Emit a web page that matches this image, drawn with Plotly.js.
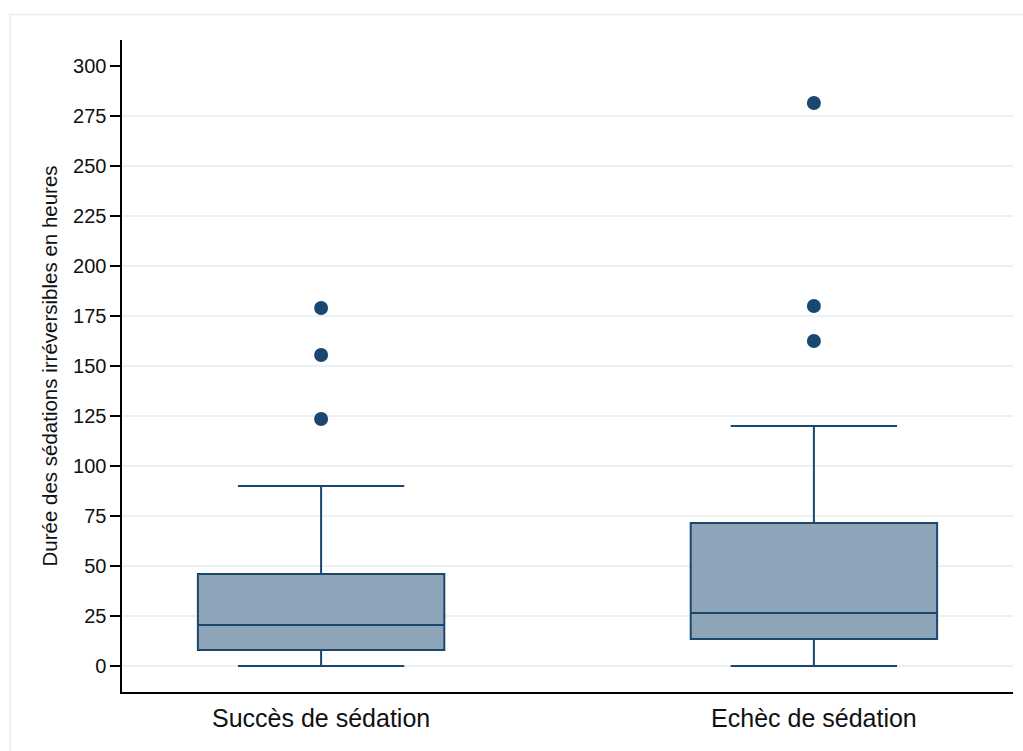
<!DOCTYPE html>
<html>
<head>
<meta charset="utf-8">
<script src="https://cdn.plot.ly/plotly-3.0.1.min.js"></script>
<style>html,body{margin:0;padding:0;background:#fff;}#chart{width:1023px;height:751px;}</style>
</head>
<body>
<div id="chart"></div>
<script>
const categories = ["Succès de sédation", "Echèc de sédation"];
const q1 = [8, 13.5];
const medians = [20.5, 26.5];
const q3 = [46, 71.5];
const lowerWhisker = [0, 0];
const upperWhisker = [90, 120];
const outliersSucces = [123.5, 155.5, 179];
const outliersEchec = [162.5, 180, 281.5];
const yTickVals = [0, 25, 50, 75, 100, 125, 150, 175, 200, 225, 250, 275, 300];
const gridVals = [0, 25, 50, 75, 100, 125, 150, 175, 200, 225, 250, 275];

const navy = '#1a476f';
const FONT = 'Liberation Sans, Arial, sans-serif';

const traces = [
  {
    type: 'box',
    x: categories,
    q1: q1,
    median: medians,
    q3: q3,
    lowerfence: lowerWhisker,
    upperfence: upperWhisker,
    boxpoints: false,
    width: 0.5,
    whiskerwidth: 0.675,
    fillcolor: '#8ea4b8',
    line: {color: navy, width: 2},
    showlegend: false,
    hoverinfo: 'skip'
  },
  {
    type: 'scatter', mode: 'markers',
    x: outliersSucces.map(() => categories[0]),
    y: outliersSucces,
    marker: {color: navy, size: 14},
    showlegend: false, hoverinfo: 'skip'
  },
  {
    type: 'scatter', mode: 'markers',
    x: outliersEchec.map(() => categories[1]),
    y: outliersEchec,
    marker: {color: navy, size: 14},
    showlegend: false, hoverinfo: 'skip'
  },
  {
    type: 'scatter', mode: 'markers', x: [categories[0]], y: [0], yaxis: 'y2',
    marker: {opacity: 0}, showlegend: false, hoverinfo: 'skip'
  }
];

const layout = {
  width: 1023, height: 751,
  paper_bgcolor: '#ffffff', plot_bgcolor: 'rgba(0,0,0,0)',
  margin: {l: 122, r: 10, t: 40, b: 59},
  font: {family: FONT, color: '#000'},
  showlegend: false,
  xaxis: {
    type: 'category',
    categoryorder: 'array', categoryarray: categories,
    range: [-0.404, 1.404],
    showgrid: false, zeroline: false,
    showline: true, linecolor: '#000', linewidth: 1.6,
    ticks: '', ticklen: 0,
    ticklabelstandoff: 3,
    tickfont: {family: FONT, size: 25, color: '#111'},
    fixedrange: true
  },
  yaxis: {
    range: [-13, 313],
    tickvals: yTickVals,
    ticktext: yTickVals.map(String),
    showgrid: false, zeroline: false,
    showline: true, linecolor: '#000', linewidth: 1.6,
    ticks: 'outside', ticklen: 10, tickwidth: 1.6, tickcolor: '#000',
    tickfont: {family: FONT, size: 20, color: '#111'},
    title: {text: 'Durée des sédations irréversibles en heures', font: {family: FONT, size: 20.5, color: '#111'}, standoff: 10},
    fixedrange: true
  },
  yaxis2: {
    overlaying: 'y', side: 'left',
    range: [-13, 313],
    tickvals: gridVals,
    showticklabels: false, ticks: '',
    showgrid: true, gridcolor: '#eaf1f3', gridwidth: 1.6,
    zeroline: false, showline: false,
    fixedrange: true
  },
  shapes: [
    {type: 'rect', xref: 'paper', yref: 'paper', x0: -0.1257, x1: 1.05, y0: -0.2, y1: 1.0391,
     line: {color: '#e6eef0', width: 1.5}, fillcolor: 'rgba(0,0,0,0)', layer: 'below'}
  ]
};

Plotly.newPlot('chart', traces, layout, {displayModeBar: false, staticPlot: true});
</script>
</body>
</html>
